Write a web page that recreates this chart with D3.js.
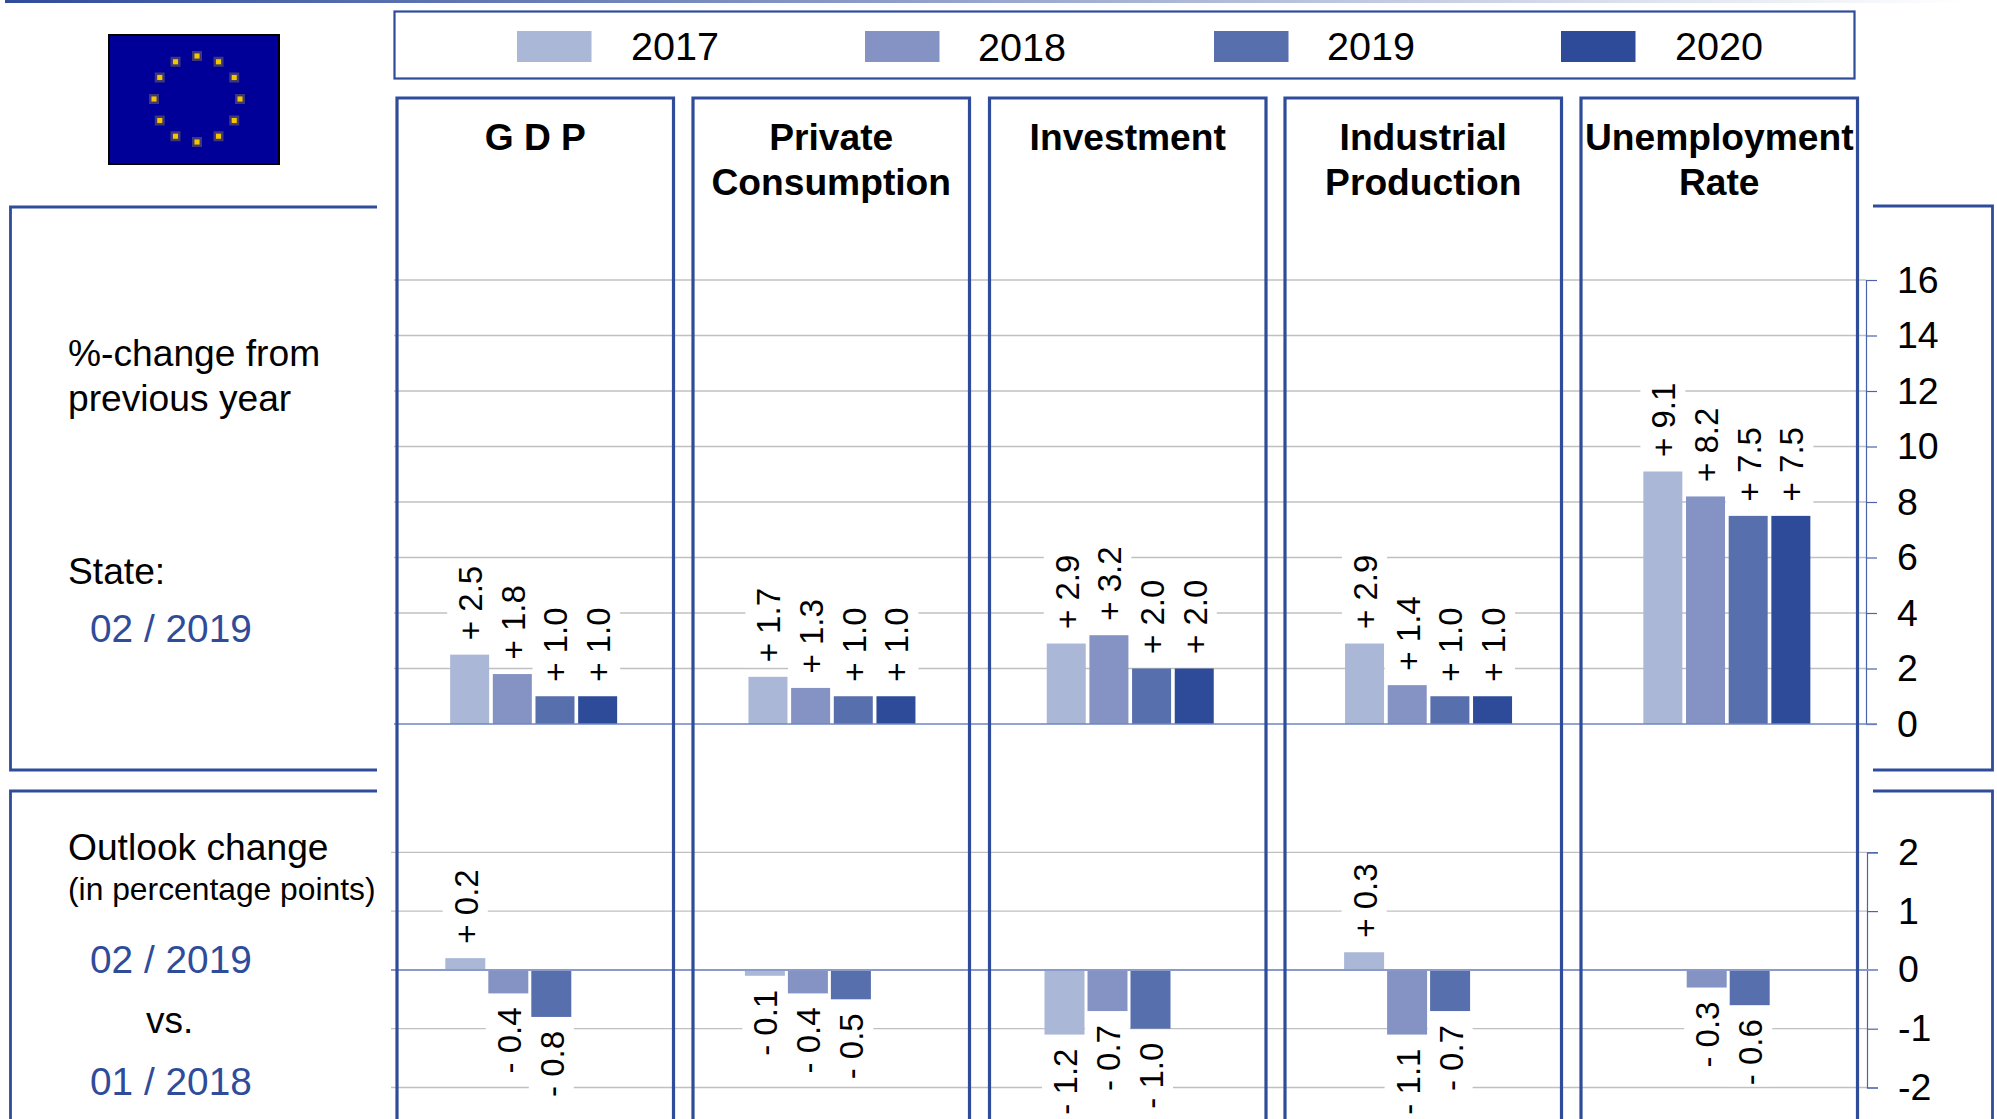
<!DOCTYPE html>
<html>
<head>
<meta charset="utf-8">
<script src="https://cdn.jsdelivr.net/npm/d3@7"></script>
<style>
html,body{margin:0;padding:0;background:#fff;overflow:hidden}
svg{display:block}
text{font-family:"Liberation Sans",Arial,sans-serif;fill:#000}
</style>
</head>
<body>
<script>
const categories = ["GDP", "Private Consumption", "Investment", "Industrial Production", "Unemployment Rate"];
const titleLines = [["G D P"], ["Private", "Consumption"], ["Investment"], ["Industrial", "Production"], ["Unemployment", "Rate"]];
const years = ["2017", "2018", "2019", "2020"];
const yearColors = ["#aab7d7", "#8493c3", "#586fae", "#2e4b9a"];

const change2017 = [2.5, 1.7, 2.9, 2.9, 9.1];
const change2018 = [1.8, 1.3, 3.2, 1.4, 8.2];
const change2019 = [1.0, 1.0, 2.0, 1.0, 7.5];
const change2020 = [1.0, 1.0, 2.0, 1.0, 7.5];

const outlook2017 = [0.2, -0.1, -1.1, 0.3, null];
const outlook2018 = [-0.4, -0.4, -0.7, -1.1, -0.3];
const outlook2019 = [-0.8, -0.5, -1.0, -0.7, -0.6];
const outlook2017Labels = ["+ 0.2", "- 0.1", "- 1.2", "+ 0.3", null];

const changeTicks = [0, 2, 4, 6, 8, 10, 12, 14, 16];
const outlookTicks = [-2, -1, 0, 1, 2];

const W = 1997, H = 1119, BLUE = "#2f4c9b";
const svg = d3.select("body").append("svg").attr("width", W).attr("height", H);

// fading rule at the very top
const grad = svg.append("defs").append("linearGradient").attr("id", "fade");
grad.append("stop").attr("offset", "0%").attr("stop-color", BLUE);
grad.append("stop").attr("offset", "100%").attr("stop-color", "#ffffff");
svg.append("rect").attr("x", 5).attr("y", 0).attr("width", 1960).attr("height", 3).attr("fill", "url(#fade)");

// EU flag
svg.append("rect").attr("x", 109).attr("y", 35).attr("width", 170).attr("height", 129)
  .attr("fill", "#000099").attr("stroke", "#000").attr("stroke-width", 2);
d3.range(12).forEach(i => {
  const a = i * Math.PI / 6, sx = 197 + 43 * Math.sin(a), sy = 99 - 43 * Math.cos(a);
  svg.append("path").attr("d", d3.symbol(d3.symbolSquare, 100)()).attr("transform", `translate(${sx},${sy})`)
    .attr("fill", "#5a5068").attr("opacity", 0.7);
  svg.append("path").attr("d", d3.symbol(d3.symbolSquare, 26)()).attr("transform", `translate(${sx},${sy})`)
    .attr("fill", "#f4c400");
});

// framing boxes
const frame = d => svg.append("path").attr("d", d).attr("fill", "none").attr("stroke", BLUE);
frame("M377,207H10.5V770H377").attr("stroke-width", 2.8);
frame("M377,791H10.5V1125").attr("stroke-width", 2.8);
frame("M1873,206H1992.5V770H1873").attr("stroke-width", 2.8);
frame("M1873,791H1992.5V1125").attr("stroke-width", 2.8);

// scales
const xTop = d3.scaleBand().domain(categories).range([384.5, 1876]);
const xBot = d3.scaleBand().domain(categories).range([380, 1878]);
const innerTop = d3.scaleBand().domain(years).range([-83.5, 83.5]).paddingInner(0.086);
const innerBot = d3.scaleBand().domain(years).range([-84.5, 84.5]).paddingInner(0.07);
const yTop = d3.scaleLinear().domain([0, 16]).range([724, 280]);
const yBot = d3.scaleLinear().domain([-2, 2]).range([1087.5, 852.3]);

// gridlines
function grid(ticks, y, x0, x1) {
  svg.append("g").selectAll("line").data(ticks).join("line")
    .attr("x1", x0).attr("x2", x1).attr("y1", d => y(d)).attr("y2", d => y(d))
    .attr("stroke", "#c0c0c0").attr("stroke-width", 1.3);
}
grid(changeTicks.filter(d => d !== 0), yTop, 394, 1866);
grid(outlookTicks.filter(d => d !== 0), yBot, 391, 1867);

// value axes
function axis(scale, ticks, x) {
  const g = svg.append("g").attr("transform", `translate(${x},0)`)
    .call(d3.axisRight(scale).tickValues(ticks).tickSize(11).tickPadding(20).tickFormat(d => String(d)));
  g.selectAll("path,line").attr("stroke", "#4a64a9").attr("stroke-width", 1.2);
  g.selectAll("text").attr("font-size", 37.5).attr("fill", "#000").attr("font-family", '"Liberation Sans",Arial,sans-serif');
}
axis(yTop, changeTicks, 1866);
axis(yBot, outlookTicks, 1867);

// bars plus their rotated value labels
function series(values, labels, year, colorIdx, x, inner, y) {
  const layer = svg.append("g");
  const rows = categories.map((c, i) => ({c, v: values[i], l: labels ? labels[i] : null})).filter(d => d.v !== null);
  const text = d => d.l || (d.v >= 0 ? "+ " : "- ") + Math.abs(d.v).toFixed(1);
  const label = layer.selectAll("g").data(rows).join("g")
    .attr("transform", d => {
      const cx = x(d.c) + x.bandwidth() / 2 + inner(year) + inner.bandwidth() / 2;
      const py = d.v >= 0 ? y(d.v) - 14.5 : y(d.v) + 14;
      return `translate(${cx + 12.5},${py}) rotate(-90)`;
    });
  label.append("text").attr("font-size", 33).attr("text-anchor", d => d.v >= 0 ? "start" : "end").text(text);
  label.each(function (d) {
    const b = d3.select(this).select("text").node().getBBox();
    const lo = d.v >= 0 ? -5 : b.x - 1;
    const hi = d.v >= 0 ? b.x + b.width + 1 : 6;
    d3.select(this).insert("rect", "text").attr("x", lo).attr("width", hi - lo)
      .attr("y", -35).attr("height", 45).attr("fill", "#fff");
  });
  return () => layer.append("g").selectAll("rect").data(rows).join("rect")
    .attr("x", d => x(d.c) + x.bandwidth() / 2 + inner(year))
    .attr("width", inner.bandwidth())
    .attr("y", d => Math.min(y(0), y(d.v)))
    .attr("height", d => Math.abs(y(0) - y(d.v)))
    .attr("fill", yearColors[colorIdx]);
}
const drawBars = [
  series(change2017, null, "2017", 0, xTop, innerTop, yTop),
  series(change2018, null, "2018", 1, xTop, innerTop, yTop),
  series(change2019, null, "2019", 2, xTop, innerTop, yTop),
  series(change2020, null, "2020", 3, xTop, innerTop, yTop),
  series(outlook2017, outlook2017Labels, "2017", 0, xBot, innerBot, yBot),
  series(outlook2018, null, "2018", 1, xBot, innerBot, yBot),
  series(outlook2019, null, "2019", 2, xBot, innerBot, yBot)
];
drawBars.forEach(f => f());

// zero lines over the bars' feet
const zero = (x0, x1, y, c, w) => svg.append("line").attr("x1", x0).attr("x2", x1).attr("y1", y).attr("y2", y).attr("stroke", c).attr("stroke-width", w);
zero(394, 1877, yTop(0), "#6f86c0", 1.5);
zero(391, 1878, yBot(0), "#8a9bcb", 2);

// category panels
const panelLeft = [397, 693, 989.5, 1285, 1581];
const panelWidth = 276.5;
svg.append("g").selectAll("path").data(panelLeft).join("path")
  .attr("d", d => `M${d},1125V98H${d + panelWidth}V1125`)
  .attr("fill", "none").attr("stroke", BLUE).attr("stroke-width", 3.2);

// panel titles
titleLines.forEach((lines, i) => {
  lines.forEach((line, j) => {
    svg.append("text").attr("x", panelLeft[i] + panelWidth / 2).attr("y", 150 + j * 45)
      .attr("text-anchor", "middle").attr("font-weight", "bold").attr("font-size", 37.2).text(line);
  });
});

// legend
svg.append("rect").attr("x", 394.5).attr("y", 11.5).attr("width", 1460).attr("height", 67)
  .attr("fill", "none").attr("stroke", BLUE).attr("stroke-width", 2.2);
const legendSwatchX = [517, 865, 1214, 1561];
const legendTextX = [631, 978, 1327, 1675];
const legendTextY = [60, 61, 60, 60];
years.forEach((yr, i) => {
  svg.append("rect").attr("x", legendSwatchX[i]).attr("y", 31).attr("width", 74.5).attr("height", 31).attr("fill", yearColors[i]);
  svg.append("text").attr("x", legendTextX[i]).attr("y", legendTextY[i]).attr("font-size", 39.6).text(yr);
});

// side notes
const note = (x, y, size, t, color) => svg.append("text").attr("x", x).attr("y", y).attr("font-size", size)
  .style("fill", color || "#000").text(t);
note(68, 366, 37.2, "%-change from");
note(68, 411, 37.2, "previous year");
note(68, 584, 37.2, "State:");
note(90, 642, 38.8, "02 / 2019", BLUE);
note(68, 860, 37.2, "Outlook change");
note(68, 900, 31.8, "(in percentage points)");
note(90, 973, 38.8, "02 / 2019", BLUE);
note(146, 1033, 37, "vs.");
note(90, 1095, 38.8, "01 / 2018", BLUE);
</script>
</body>
</html>
